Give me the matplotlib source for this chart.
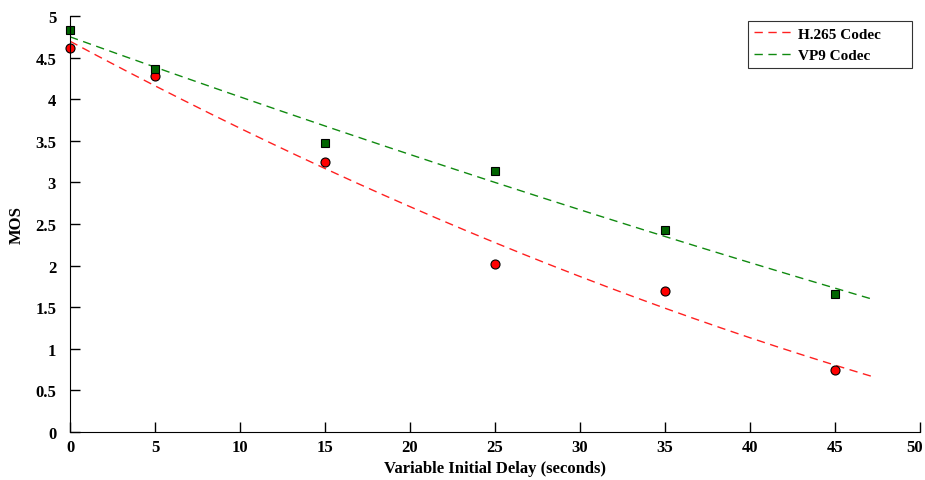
import numpy as np
import matplotlib.pyplot as plt
from matplotlib.transforms import ScaledTranslation

# Dados
atraso = [0, 5, 15, 25, 35, 45]
mos_h265 = [4.61, 4.28, 3.24, 2.02, 1.69, 0.75]
mos_vp9 = [4.83, 4.36, 3.47, 3.14, 2.43, 1.66]
xticks = [0, 5, 10, 15, 20, 25, 30, 35, 40, 45, 50]
yticks = [0, 0.5, 1, 1.5, 2, 2.5, 3, 3.5, 4, 4.5, 5]
yticklabels = ["0", "0.5", "1", "1.5", "2", "2.5", "3", "3.5", "4", "4.5", "5"]

plt.rcParams["font.family"] = ["Liberation Serif", "DejaVu Serif"]
plt.rcParams["font.weight"] = "bold"

fig = plt.figure(figsize=(9.25, 4.81), dpi=100)
ax = fig.add_axes([0.0757, 0.0998, 0.9189, 0.8649])

# curvas de ajuste (polinômio de 2º grau)
xf = np.linspace(0, 47.3, 200)
p1 = np.polyfit(atraso, mos_h265, 2)
p2 = np.polyfit(atraso, mos_vp9, 2)
ax.plot(xf, np.polyval(p1, xf), "--", color="#ff2020", lw=1, dashes=(6, 4), label="H.265 Codec")
ax.plot(xf, np.polyval(p2, xf), "--", color="#108a10", lw=1, dashes=(6, 4), label="VP9 Codec")

ax.plot(atraso, mos_h265, "o", color="#ff0000", mec="black", mew=0.8, ms=6.5, clip_on=False)
ax.plot(atraso, mos_vp9, "s", color="#006400", mec="black", mew=0.8, ms=5.5, clip_on=False)

ax.set_xlim(0, 50)
ax.set_ylim(0, 5)
ax.set_xticks(xticks)
ax.set_yticks(yticks)
ax.set_yticklabels(yticklabels)
ax.spines["top"].set_visible(False)
ax.spines["right"].set_visible(False)
ax.tick_params(axis="both", direction="in", length=7, width=1, labelsize=12)
ax.tick_params(axis="y", pad=10)
ax.tick_params(axis="x", pad=5)

# último rótulo do eixo x um pouco para a esquerda
ultimo = ax.get_xticklabels()[-1]
ultimo.set_transform(ultimo.get_transform() + ScaledTranslation(-4 / 72, 0, fig.dpi_scale_trans))

ax.set_xlabel("Variable Initial Delay (seconds)", fontsize=12, fontweight="bold", labelpad=4)
ax.set_ylabel("MOS", fontsize=12, fontweight="bold", labelpad=7.5)

leg = ax.legend(loc="upper left", bbox_to_anchor=(0.7976, 0.8726, 0.193, 0.1154), mode="expand",
                fancybox=False, edgecolor="black", fontsize=11, handlelength=2.55,
                handletextpad=0.3, borderpad=0.4, labelspacing=0.5, borderaxespad=0)
leg.get_frame().set_linewidth(0.8)

plt.savefig("out.png", dpi=100)
